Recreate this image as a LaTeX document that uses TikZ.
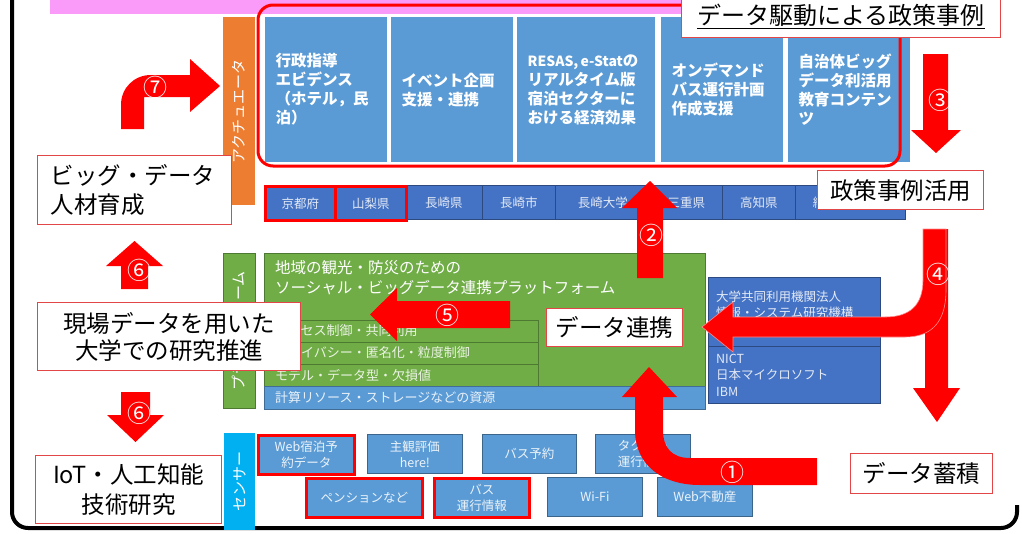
\documentclass[tikz,border=0pt]{standalone}
\usepackage{fontspec}
\setmainfont{Noto Sans CJK JP}
\definecolor{pinkbar}{RGB}{250,155,250}
\definecolor{orangebar}{RGB}{237,125,49}
\definecolor{tblue}{RGB}{91,155,213}
\definecolor{pblue}{RGB}{68,114,196}
\definecolor{gplat}{RGB}{112,173,71}
\definecolor{cyanbar}{RGB}{0,176,240}
\definecolor{boxred}{RGB}{226,70,70}
\definecolor{arrred}{RGB}{255,0,0}
\begin{document}
\begin{tikzpicture}[x=1pt,y=-1pt,
  topbox/.style={fill=tblue, draw=white, line width=1.2pt, anchor=north west, text=white,
    font=\fontsize{15.5}{19}\selectfont\bfseries, align=left, inner xsep=11pt, inner ysep=0pt, minimum height=146pt},
  vbar/.style={anchor=north west, minimum width=32pt, inner sep=0pt},
  vlab/.style={text=white, font=\fontsize{15}{15}\selectfont, rotate=90, inner sep=0pt},
  pref/.style={fill=pblue, draw=pblue!65!black, line width=0.8pt, anchor=north west, minimum height=34pt,
    text=white!85!pblue, font=\fontsize{12.5}{12.5}\selectfont, inner sep=0pt},
  redframe/.style={draw=arrred, line width=2.6pt},
  prow/.style={fill=gplat, draw=gplat!70!black, line width=0.8pt, anchor=north west, minimum width=274pt, minimum height=22pt, inner sep=0pt},
  rowt/.style={anchor=west, text=white!85!gplat, font=\fontsize{13}{13}\selectfont, inner sep=0pt},
  info/.style={fill=pblue, draw=pblue!65!black, line width=0.8pt, anchor=north west, minimum width=172pt, inner sep=0pt},
  infot/.style={anchor=west, align=left, text=white!85!pblue, font=\fontsize{12.5}{15.5}\selectfont, inner sep=0pt},
  sens/.style={fill=tblue, draw=tblue!65!black, line width=0.8pt, anchor=north west, minimum height=39pt,
    text=white!88!tblue, font=\fontsize{12.5}{16}\selectfont, align=center, inner sep=0pt},
  wbox/.style={fill=white, draw=boxred, line width=1.2pt, anchor=north west, text=black,
    font=\fontsize{23.5}{29}\selectfont, inner sep=0pt},
  arr/.style={fill=arrred, draw=none},
  num/.style={text=white, font=\fontsize{24}{24}\selectfont, inner sep=0pt}
]
\useasboundingbox (0,0) rectangle (1022,533);

% outer frame and top bar
\draw[line width=4pt, rounded corners=16pt] (12,-5) -- (12,528) -- (1017,528) -- (1017,505);
\fill[pinkbar] (50,0) rectangle (995,14);

% top boxes (policy cases)
\node[topbox, minimum width=123pt, text width=101pt] (a1) at (264,16) {行政指導\\エビデンス\\（ホテル，民\\泊）};
\node[topbox, minimum width=123pt, text width=101pt] (a2) at (390,16) {イベント企画\\支援・連携};
\node[topbox, minimum width=139pt, text width=117pt] (a3) at (516,16) {\mbox{{\fontsize{14}{19}\selectfont RESAS,\,e-Stat}の}\\リアルタイム版\\宿泊セクターに\\おける経済効果};
\node[topbox, minimum width=123pt, text width=101pt] (a4) at (660,16) {オンデマンド\\バス運行計画\\作成支援};
\node[topbox, minimum width=123pt, text width=101pt] (a5) at (787,16) {自治体ビッグ\\データ利活用\\教育コンテン\\ツ};
\draw[arrred, line width=3pt, rounded corners=15pt] (258,5) rectangle (900,166);
\node[wbox, minimum width=319pt, minimum height=42pt, font=\fontsize{24}{24}\selectfont] (title) at (681,-5) {\underline{データ駆動による政策事例}};

% vertical labels
\node[vbar, fill=orangebar, minimum height=188pt] (act) at (223,17) {};
\node[vlab] (actl) at (act.center) {アクチュエータ};
\node[vbar, fill=gplat, draw=gplat!70!black, line width=0.6pt, minimum height=155pt] (plat) at (223,253) {};
\node[vlab] (platl) at (plat.center) {プラットフォーム};
\node[vbar, fill=cyanbar, minimum width=31pt, minimum height=97pt] (sen) at (224,433) {};
\node[vlab] (senl) at (sen.center) {センサー};

% prefectures / organisations
\node[pref, minimum width=77pt] (p3) at (405,185) {長崎県};
\node[pref, minimum width=73pt] (p4) at (482,185) {長崎市};
\node[pref, minimum width=95pt] (p5) at (555,185) {長崎大学};
\node[pref, minimum width=72pt] (p6) at (650,185) {三重県};
\node[pref, minimum width=73pt] (p7) at (722,185) {高知県};
\node[pref, minimum width=110pt] (p8) at (795,185) {総務省統計局};
\node[pref, redframe, minimum width=70pt] (p1) at (264,185) {京都府};
\node[pref, redframe, minimum width=71pt] (p2) at (334,185) {山梨県};

% platform
\node[anchor=north west, fill=gplat, draw=gplat!70!black, line width=0.8pt, minimum width=441pt, minimum height=133pt, inner sep=0pt] (pf) at (264,253) {};
\node[anchor=west, align=left, text=white, font=\fontsize{15.5}{20}\selectfont, inner sep=0pt] (pft) at (275,278) {地域の観光・防災のための\\ソーシャル・ビッグデータ連携プラットフォーム};
\node[prow] (r1) at (264,320) {};
\node[prow] (r2) at (264,342) {};
\node[prow] (r3) at (264,364) {};
\node[rowt] (r1t) at (275,331) {アクセス制御・共同利用};
\node[rowt] (r2t) at (275,353) {プライバシー・匿名化・粒度制御};
\node[rowt] (r3t) at (275,375) {モデル・データ型・欠損値};
\node[anchor=north west, fill=tblue, draw=tblue!70!black, line width=0.8pt, minimum width=441pt, minimum height=23pt, inner sep=0pt] (res) at (264,386) {};
\node[rowt, text=white!85!tblue] (rest) at (275,397.5) {計算リソース・ストレージなどの資源};

% partners
\node[info, minimum height=69pt] (i1) at (708,277) {};
\node[info, minimum height=57pt] (i2) at (708,346) {};
\node[infot] (i1t) at (716,304.5) {大学共同利用機関法人\\情報・システム研究機構};
\node[infot, font=\fontsize{12.5}{16.5}\selectfont] (i2t) at (716,375) {NICT\\日本マイクロソフト\\IBM};

% sensors
\node[sens, minimum width=95pt] (s2) at (367,434) {主観評価\\here!};
\node[sens, minimum width=94pt] (s3) at (482,434) {バス予約};
\node[sens, minimum width=95pt] (s4) at (595,434) {タクシー\\運行情報};
\node[sens, minimum width=95pt] (s7) at (547,477) {Wi-Fi};
\node[sens, minimum width=95pt] (s8) at (657,477) {Web不動産};
\node[sens, redframe, minimum width=96pt] (s1) at (257,434) {Web宿泊予\\約データ};
\node[sens, redframe, minimum width=116pt] (s5) at (305,477) {ペンションなど};
\node[sens, redframe, minimum width=95pt] (s6) at (433,477) {バス\\運行情報};

% block arrows
\fill[arr] (510,301) -- (397,301) -- (397,288) -- (370,314.5) -- (397,341) -- (397,328) -- (510,328) -- cycle;
\fill[arr] (637,278) -- (637,208) -- (622,208) -- (650,181) -- (677,208) -- (663,208) -- (663,278) -- cycle;
\fill[arr] (817,458) -- (817,485) -- (700,485) .. controls (662,485) and (635,465) .. (635,430) -- (635,397) -- (622,397) -- (649,367) -- (677,397) -- (663,397) -- (663,430) .. controls (663,448) and (672,458) .. (690,458) -- cycle;
\fill[arr] (925,229) -- (948,229) -- (948,388) -- (960,388) -- (937,422) -- (913,388) -- (925,388) -- cycle;
\filldraw[arr, draw=white!55!red, line width=0.6pt] (923,229) -- (946,229) -- (946,290) .. controls (946,318) and (935,337) .. (905,337) -- (733,337) -- (733,352) -- (702,327) -- (733,302) -- (733,317) -- (885,317) .. controls (910,317) and (923,305) .. (923,280) -- cycle;
\fill[arr] (923,54) -- (948,54) -- (948,130) -- (961,130) -- (936,153) -- (911,130) -- (923,130) -- cycle;
\fill[arr] (121,129) -- (121,105) .. controls (121,88) and (134,75) .. (151,75) -- (190,75) -- (190,59) -- (220,86) -- (190,112) -- (190,97) -- (144,97) -- (144,129) -- cycle;
\fill[arr] (121,289) -- (121,266) -- (106,266) -- (134.5,241) -- (163,266) -- (148,266) -- (148,289) -- cycle;
\fill[arr] (121,392) -- (121,415) -- (107,415) -- (135.5,442) -- (164,415) -- (150,415) -- (150,392) -- cycle;

% text boxes
\node[wbox, minimum width=136pt, minimum height=38pt] (link) at (546,308) {データ連携};
\node[wbox, minimum width=166pt, minimum height=39pt] (use) at (817,170) {政策事例活用};
\node[wbox, minimum width=142pt, minimum height=40pt] (store) at (850,453) {データ蓄積};
\node[wbox, minimum width=194pt, minimum height=69pt, align=left, text width=168pt] (hr) at (37,155) {ビッグ・データ\\人材育成};
\node[wbox, minimum width=263pt, minimum height=68pt, align=center, font=\fontsize{23.5}{27}\selectfont] (field) at (37,302) {現場データを用いた\\大学での研究推進};
\node[wbox, minimum width=186pt, minimum height=68pt, align=center, font=\fontsize{23.5}{30}\selectfont] (iot) at (35,455) {IoT・人工知能\\技術研究};

% step numbers
\node[num] (n1) at (732,472) {①};
\node[num] (n2) at (651,235) {②};
\node[num] (n3) at (940,100) {③};
\node[num] (n4) at (938,274) {④};
\node[num] (n5) at (447,315) {⑤};
\node[num] (n6a) at (139,270) {⑥};
\node[num] (n6b) at (139,413) {⑥};
\node[num] (n7) at (155,87) {⑦};
\end{tikzpicture}
\end{document}
